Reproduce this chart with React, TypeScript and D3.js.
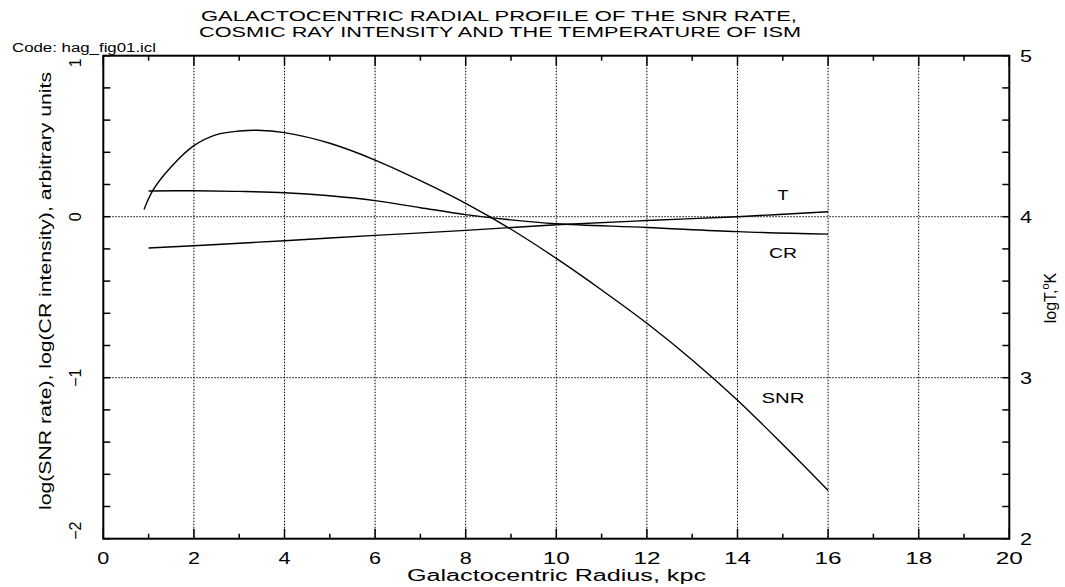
import React from "react";
import * as d3 from "d3";

const snrR = [0.9, 1.1, 1.5, 2, 2.5, 3, 3.4, 4, 5, 6, 7, 8, 9, 10, 11, 12, 13, 14, 15, 16];
const snrV = [0.045, 0.166, 0.31, 0.441, 0.51, 0.532, 0.537, 0.522, 0.456, 0.352, 0.224, 0.083, -0.078, -0.259, -0.455, -0.662, -0.89, -1.14, -1.415, -1.7];

const crR = [1, 2, 3, 4, 5, 6, 7, 8, 9, 10, 12, 14, 16];
const crV = [0.16, 0.161, 0.157, 0.149, 0.13, 0.1, 0.056, 0.013, -0.02, -0.044, -0.067, -0.093, -0.108];

const tR = [1, 2, 4, 6, 8, 10, 12, 14, 16];
const logT = [3.806, 3.82, 3.851, 3.884, 3.915, 3.95, 3.976, 4.0, 4.031];

const xTicks = [0, 2, 4, 6, 8, 10, 12, 14, 16, 18, 20];
const yTicks = [1, 0, -1, -2];
const tTicks = [5, 4, 3, 2];
const hGrid = [0, -1];

const FONT = "'Liberation Sans', Arial, sans-serif";

export default function App() {
  const L = 103.3, R = 1009.3, T = 55.7, B = 538.7;
  const x = d3.scaleLinear().domain([0, 20]).range([L, R]);
  const y = d3.scaleLinear().domain([-2, 1]).range([B, T]);
  const yT = d3.scaleLinear().domain([2, 5]).range([B, T]);

  const line = d3.line<[number, number]>().x(d => d[0]).y(d => d[1]).curve(d3.curveCatmullRom.alpha(0.5));
  const snrPath = line(snrR.map((r, i) => [x(r), y(snrV[i])]));
  const crPath = line(crR.map((r, i) => [x(r), y(crV[i])]));
  const tPath = line(tR.map((r, i) => [x(r), yT(logT[i])]));

  const minorX = d3.range(0, 21, 1);
  const minorY = d3.range(-2, 1.0001, 0.2);

  return (
    <svg width={1065} height={587} style={{ position: "absolute", left: 0, top: 0, background: "#fff" }} fontFamily={FONT}>
      <rect x={0} y={0} width={1065} height={587} fill="#fff" />
      {/* titles */}
      <text x={201} y={20.5} fontSize={15} textLength={596} lengthAdjust="spacingAndGlyphs">GALACTOCENTRIC RADIAL PROFILE OF THE SNR RATE,</text>
      <text x={199} y={37} fontSize={15} textLength={602} lengthAdjust="spacingAndGlyphs">COSMIC RAY INTENSITY AND THE TEMPERATURE OF ISM</text>
      <text x={12} y={52} fontSize={12.5} textLength={144} lengthAdjust="spacingAndGlyphs">Code: hag_fig01.icl</text>

      {/* grid */}
      {xTicks.filter(v => v > 0 && v < 20).map(v => (
        <line key={"gx" + v} x1={x(v)} x2={x(v)} y1={T} y2={B} stroke="#000" strokeWidth={1} strokeDasharray="1.5,1.5" />
      ))}
      {hGrid.map(v => (
        <line key={"gy" + v} x1={L} x2={R} y1={y(v)} y2={y(v)} stroke="#000" strokeWidth={1} strokeDasharray="1.5,1.5" />
      ))}

      {/* ticks */}
      {minorX.map(v => {
        const len = v % 2 === 0 ? 10 : 5;
        return (
          <g key={"tx" + v}>
            <line x1={x(v)} x2={x(v)} y1={B} y2={B - len} stroke="#000" strokeWidth={1.5} />
            <line x1={x(v)} x2={x(v)} y1={T} y2={T + len} stroke="#000" strokeWidth={1.5} />
          </g>
        );
      })}
      {minorY.map((v, i) => (
        <g key={"ty" + i}>
          <line x1={L} x2={L + 7} y1={y(v)} y2={y(v)} stroke="#000" strokeWidth={1.5} />
          <line x1={R} x2={R - 7} y1={y(v)} y2={y(v)} stroke="#000" strokeWidth={1.5} />
        </g>
      ))}

      {/* frame */}
      <rect x={L} y={T} width={R - L} height={B - T} fill="none" stroke="#000" strokeWidth={2} />

      {/* curves */}
      <path d={snrPath || ""} fill="none" stroke="#000" strokeWidth={1.4} />
      <path d={crPath || ""} fill="none" stroke="#000" strokeWidth={1.4} />
      <path d={tPath || ""} fill="none" stroke="#000" strokeWidth={1.4} />

      {/* curve labels */}
      <text x={783} y={200} fontSize={15} textAnchor="middle" textLength={11} lengthAdjust="spacingAndGlyphs">T</text>
      <text x={783} y={258} fontSize={15} textAnchor="middle" textLength={28} lengthAdjust="spacingAndGlyphs">CR</text>
      <text x={783} y={403} fontSize={15} textAnchor="middle" textLength={43} lengthAdjust="spacingAndGlyphs">SNR</text>

      {/* x tick labels */}
      {xTicks.map(v => (
        <text key={"lx" + v} x={x(v)} y={564} fontSize={16} textAnchor="middle" textLength={v >= 10 ? 27 : 12} lengthAdjust="spacingAndGlyphs">{v}</text>
      ))}
      <text x={407} y={581} fontSize={16} textLength={299} lengthAdjust="spacingAndGlyphs">Galactocentric Radius, kpc</text>

      {/* left y tick labels (rotated) */}
      {yTicks.map(v => {
        let cy = y(v);
        if (v === 1) cy += 7;
        if (v === -2) cy -= 8;
        return (
          <text key={"ly" + v} transform={`translate(81,${cy}) rotate(-90)`} fontSize={16} textAnchor="middle">{v < 0 ? "\u2212" + Math.abs(v) : v}</text>
        );
      })}
      <text transform={`translate(51,291) rotate(-90)`} fontSize={16} textAnchor="middle" textLength={438} lengthAdjust="spacingAndGlyphs">log(SNR rate), log(CR intensity), arbitrary units</text>

      {/* right tick labels */}
      {tTicks.map(v => (
        <text key={"lt" + v} x={1020} y={yT(v) + 6} fontSize={16} textLength={12} lengthAdjust="spacingAndGlyphs">{v}</text>
      ))}
      <text transform={`translate(1056,298) rotate(-90)`} fontSize={16} textAnchor="middle">
        logT,<tspan dy={-7} fontSize={11}>o</tspan><tspan dy={7}>K</tspan>
      </text>
    </svg>
  );
}
